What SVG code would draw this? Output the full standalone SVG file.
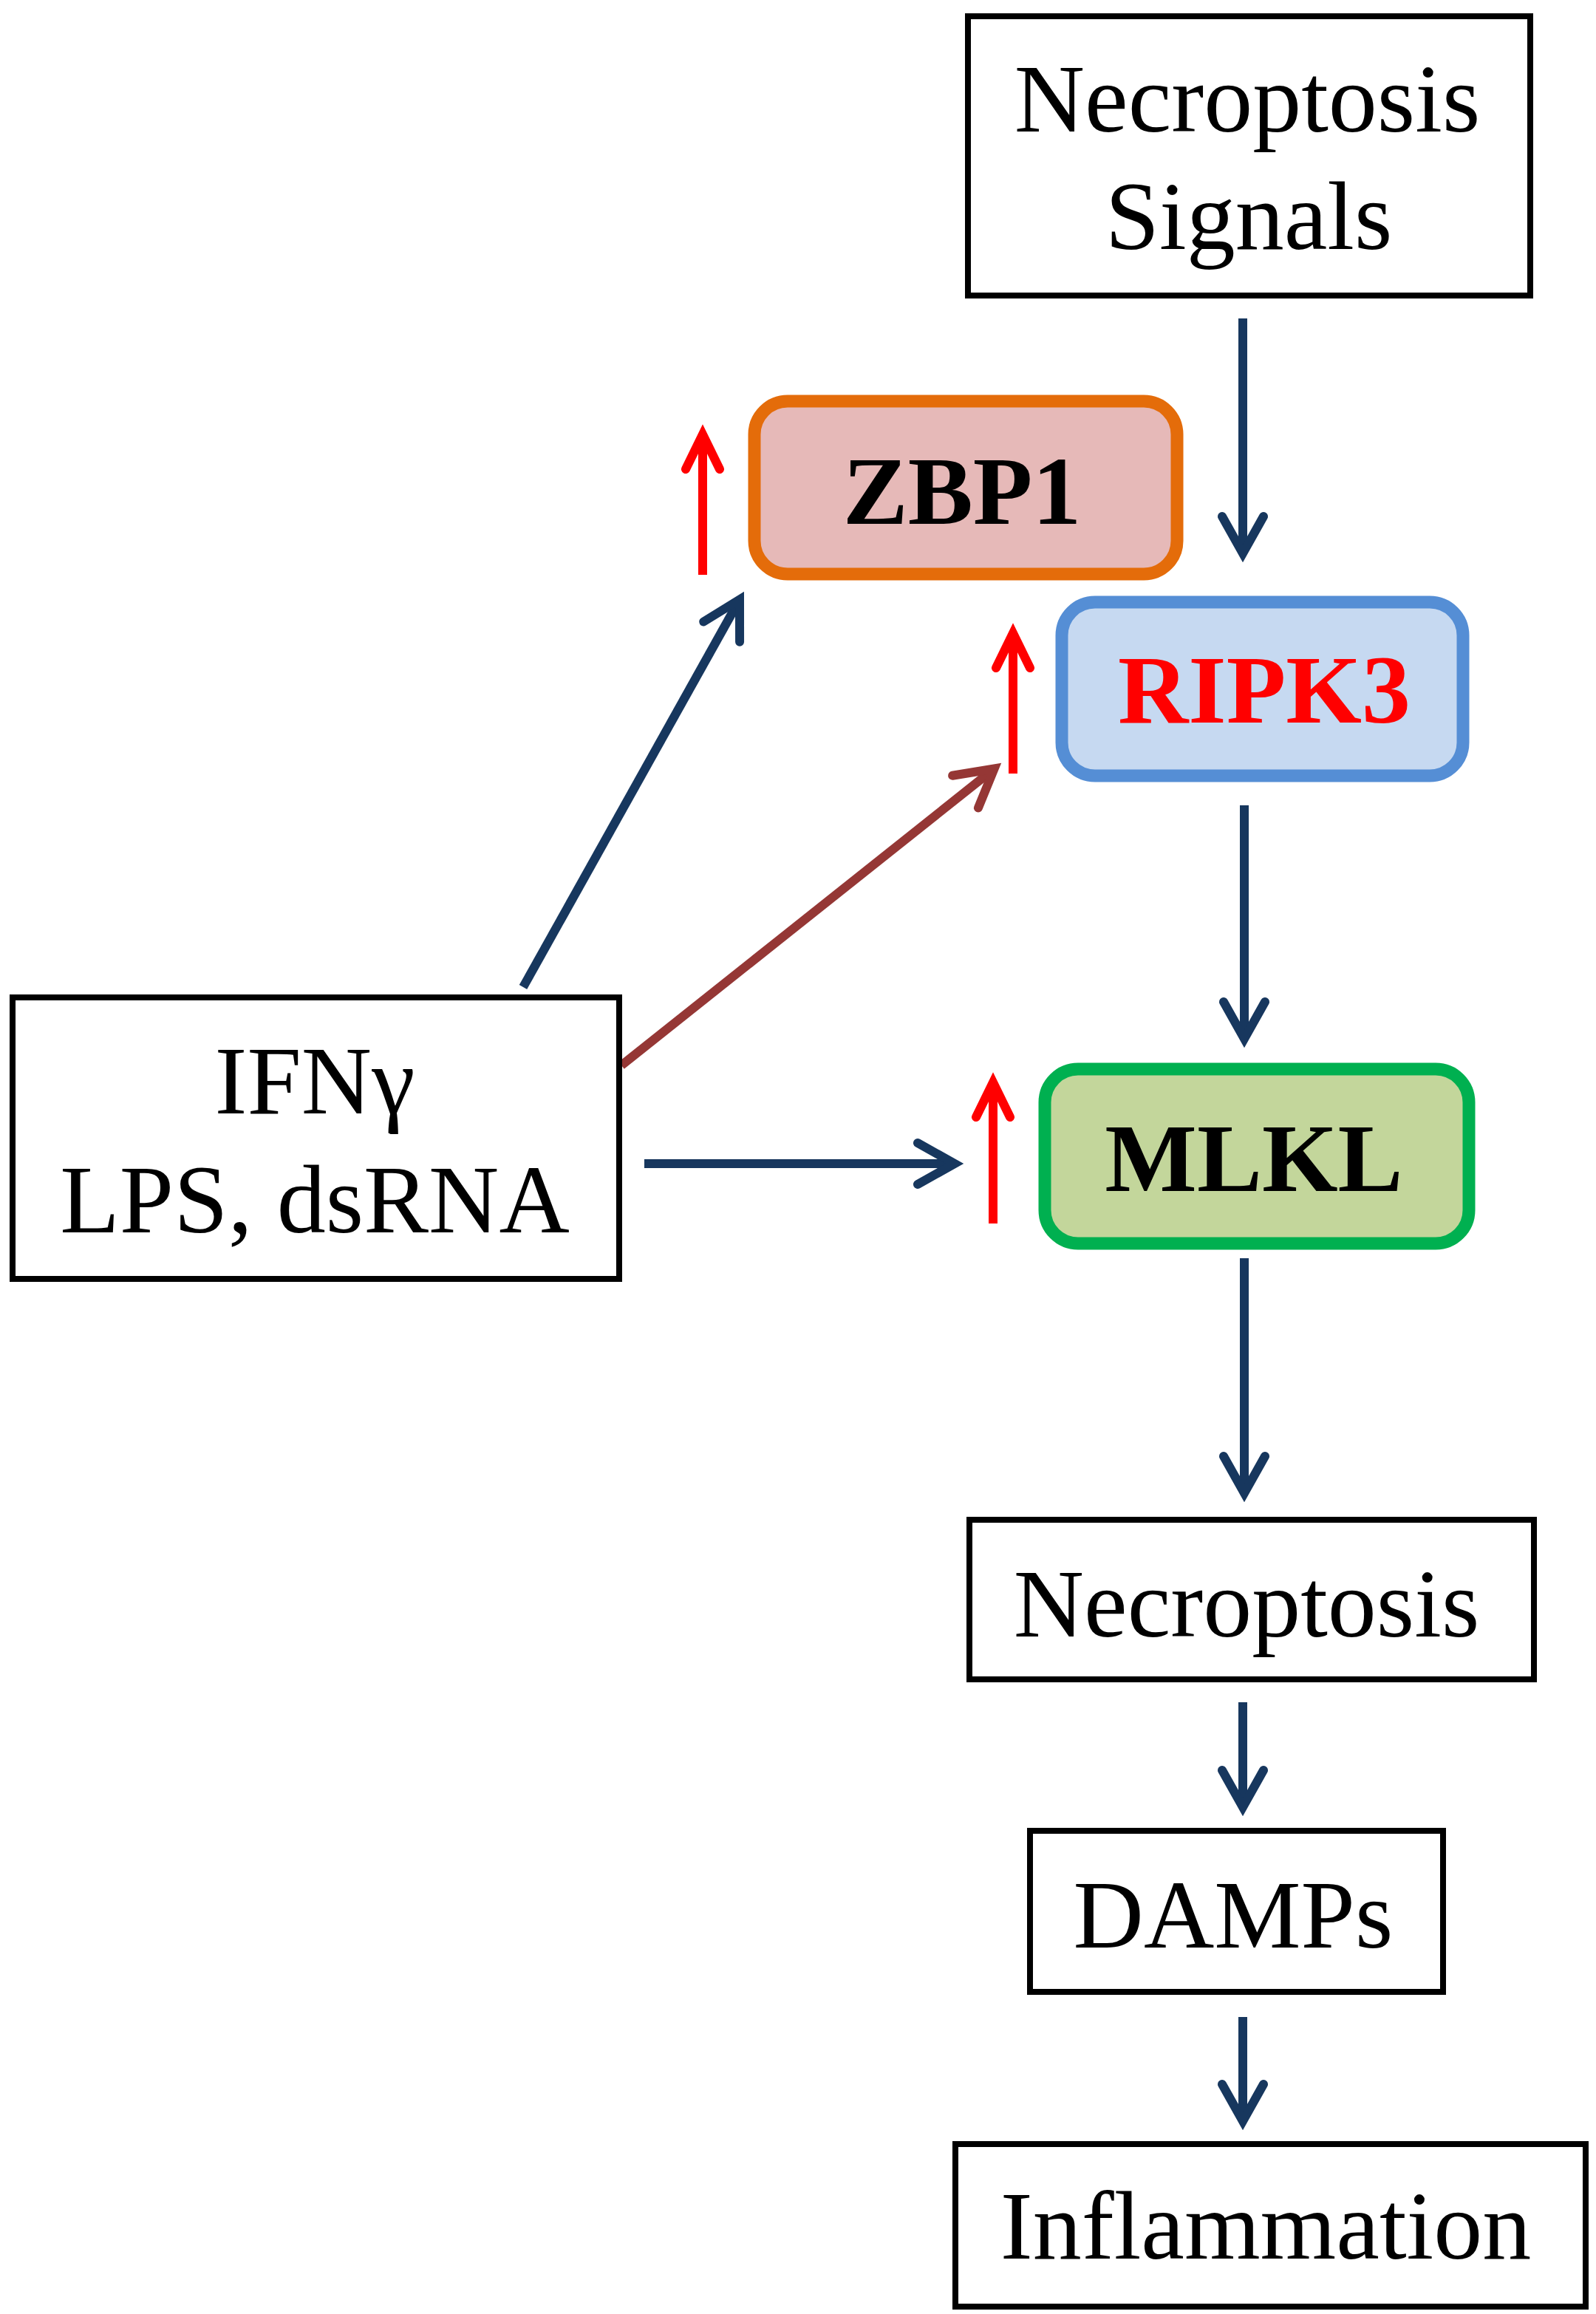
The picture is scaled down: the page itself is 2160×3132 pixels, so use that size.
<svg xmlns="http://www.w3.org/2000/svg" width="2160" height="3132" viewBox="0 0 2160 3132">
<style>
.box{fill:#FFFFFF;stroke:#000000;stroke-width:8}
.t{font-family:"Liberation Serif","Times New Roman",serif;font-size:132px;text-anchor:middle;fill:#000000}
.b{font-weight:bold}
.nv{stroke:#17375E;stroke-width:12;fill:none;marker-end:url(#mNavy)}
.br{stroke:#953735;stroke-width:12;fill:none;marker-end:url(#mBrown)}
.rd{stroke:#FF0000;stroke-width:12;fill:none;marker-end:url(#mRed)}
</style>
<defs>
<marker id="mNavy" markerUnits="userSpaceOnUse" orient="auto" refX="0" refY="0" markerWidth="200" markerHeight="200" viewBox="-100 -100 200 200" overflow="visible">
<path d="M-50,-28 L0,0 L-50,28" fill="none" stroke="#17375E" stroke-width="12" stroke-linecap="round" stroke-linejoin="miter"/>
</marker>
<marker id="mBrown" markerUnits="userSpaceOnUse" orient="auto" refX="0" refY="0" markerWidth="200" markerHeight="200" viewBox="-100 -100 200 200" overflow="visible">
<path d="M-50,-28 L0,0 L-50,28" fill="none" stroke="#953735" stroke-width="12" stroke-linecap="round" stroke-linejoin="miter"/>
</marker>
<marker id="mRed" markerUnits="userSpaceOnUse" orient="auto" refX="0" refY="0" markerWidth="200" markerHeight="200" viewBox="-100 -100 200 200" overflow="visible">
<path d="M-47,-23 L0,0 L-47,23" fill="none" stroke="#FF0000" stroke-width="12" stroke-linecap="round" stroke-linejoin="miter"/>
</marker>
</defs>
<rect width="2160" height="3132" fill="#FFFFFF"/>
<g id="connectors">
<line class="nv" x1="1682" y1="431" x2="1682" y2="749"/>
<line class="nv" x1="1684" y1="1090" x2="1684" y2="1406"/>
<line class="nv" x1="1684" y1="1703" x2="1684" y2="2021"/>
<line class="nv" x1="1682" y1="2304" x2="1682" y2="2446"/>
<line class="nv" x1="1682" y1="2730" x2="1682" y2="2871"/>
<line class="nv" x1="708" y1="1336" x2="1001" y2="811.5"/>
<line class="br" x1="841" y1="1442" x2="1345.6" y2="1040.5"/>
<line class="nv" x1="872" y1="1575" x2="1292" y2="1575"/>
<line class="rd" x1="951" y1="778" x2="951" y2="588"/>
<line class="rd" x1="1371" y1="1047" x2="1371" y2="857"/>
<line class="rd" x1="1344" y1="1656" x2="1344" y2="1465"/>
</g>
<g id="necroptosis-signals">
<rect class="box" x="1310" y="22" width="761" height="378"/>
<text class="t" x="1688" y="178">Necroptosis</text>
<text class="t" x="1690" y="337">Signals</text>
</g>
<g id="zbp1">
<rect x="1021" y="543" width="572" height="234" rx="45" ry="45" fill="#E6B9B8" stroke="#E46C0A" stroke-width="17"/>
<text class="t b" x="1302" y="709">ZBP1</text>
</g>
<g id="ripk3">
<rect x="1437" y="815" width="543" height="235" rx="45" ry="45" fill="#C6D9F1" stroke="#558ED5" stroke-width="17"/>
<text class="t b" x="1711" y="978" fill="#FF0000" style="fill:#FF0000">RIPK3</text>
</g>
<g id="mlkl">
<rect x="1414" y="1447" width="574" height="236" rx="45" ry="45" fill="#C3D69B" stroke="#00B050" stroke-width="17"/>
<text class="t b" x="1697" y="1612">MLKL</text>
</g>
<g id="ifn">
<rect class="box" x="17" y="1350" width="821" height="381"/>
<text class="t" x="426" y="1507">IFNγ</text>
<text class="t" x="426" y="1668">LPS, dsRNA</text>
</g>
<g id="necroptosis">
<rect class="box" x="1312" y="2057" width="764" height="216"/>
<text class="t" x="1687" y="2215">Necroptosis</text>
</g>
<g id="damps">
<rect class="box" x="1394" y="2478" width="559" height="218"/>
<text class="t" x="1669" y="2636">DAMPs</text>
</g>
<g id="inflammation">
<rect class="box" x="1293" y="2902" width="853" height="220"/>
<text class="t" x="1713" y="3057">Inflammation</text>
</g>
</svg>
